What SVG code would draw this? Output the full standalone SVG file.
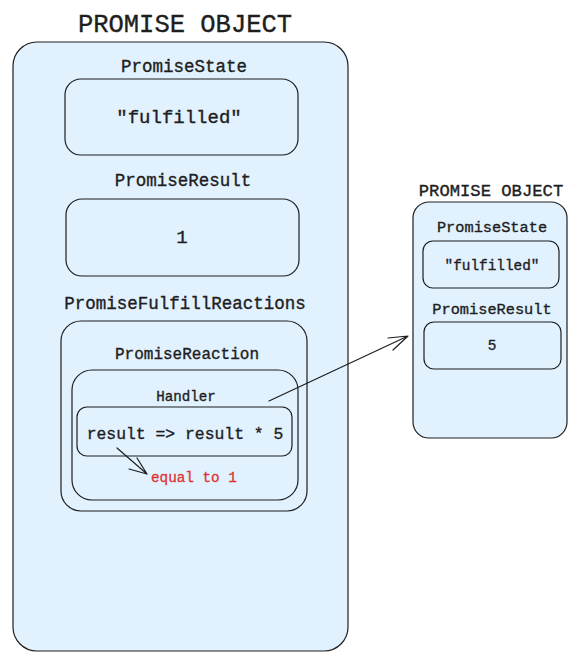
<svg xmlns="http://www.w3.org/2000/svg" width="582" height="672" viewBox="0 0 582 672">
<defs>
<style>
.box{fill:#e1f1fe;stroke:#1e1e1e;stroke-width:1.2}
.t{font-family:"Liberation Mono","DejaVu Sans Mono",monospace;fill:#1e1e1e;stroke:#1e1e1e;stroke-width:0.35;text-anchor:middle}
.red{font-family:"Liberation Mono","DejaVu Sans Mono",monospace;fill:#e03131;stroke:#e03131;stroke-width:0.3}
.ln{fill:none;stroke:#1e1e1e;stroke-width:1.2;stroke-linecap:round;stroke-linejoin:round}
</style>
</defs>
<rect width="582" height="672" fill="#ffffff"/>
<g id="promise-left">
<text class="t" x="185" y="32" font-size="25.5">PROMISE OBJECT</text>
<rect class="box" x="13" y="42" width="335" height="609" rx="24"/>
</g>
<g id="left-state">
<text class="t" x="184" y="72" font-size="17.5">PromiseState</text>
<rect class="box" x="65" y="79" width="233" height="76" rx="16"/>
<text class="t" x="179" y="123" font-size="19">"fulfilled"</text>
</g>
<g id="left-result">
<text class="t" x="183" y="186" font-size="17.5">PromiseResult</text>
<rect class="box" x="66" y="199" width="233" height="77" rx="16"/>
<text class="t" x="182" y="243" font-size="19">1</text>
</g>
<g id="left-reactions">
<text class="t" x="185" y="309" font-size="17.5">PromiseFulfillReactions</text>
<rect class="box" x="61" y="321" width="246" height="190" rx="20"/>
</g>
<g id="reaction">
<text class="t" x="187" y="359" font-size="16">PromiseReaction</text>
<rect class="box" x="72" y="370" width="226" height="130" rx="20"/>
</g>
<g id="handler">
<text class="t" x="186" y="401" font-size="14.2">Handler</text>
<rect class="box" x="77" y="407" width="215" height="49" rx="10"/>
<text class="t" x="185" y="439" font-size="16.4">result =&gt; result * 5</text>
</g>
<g id="note">
<text class="red" x="151" y="482" font-size="14.3">equal to 1</text>
</g>
<g id="promise-right">
<text class="t" x="491" y="196" font-size="17.2">PROMISE OBJECT</text>
<rect class="box" x="413" y="202" width="154" height="236" rx="16"/>
</g>
<g id="right-state">
<text class="t" x="492" y="232" font-size="15.3">PromiseState</text>
<rect class="box" x="423" y="241" width="136" height="47" rx="10"/>
<text class="t" x="492" y="270" font-size="14.4">"fulfilled"</text>
</g>
<g id="right-result">
<text class="t" x="492" y="314" font-size="15.3">PromiseResult</text>
<rect class="box" x="424" y="322" width="137" height="47" rx="10"/>
<text class="t" x="492" y="350" font-size="14.4">5</text>
</g>
<g id="connectors">
<path class="ln" d="M117 448 L147 474 M129 469 L147 474 L137 458"/>
<path class="ln" d="M269 401 L408 336 M388 338 L408 336 L393 350"/>
</g>
</svg>
